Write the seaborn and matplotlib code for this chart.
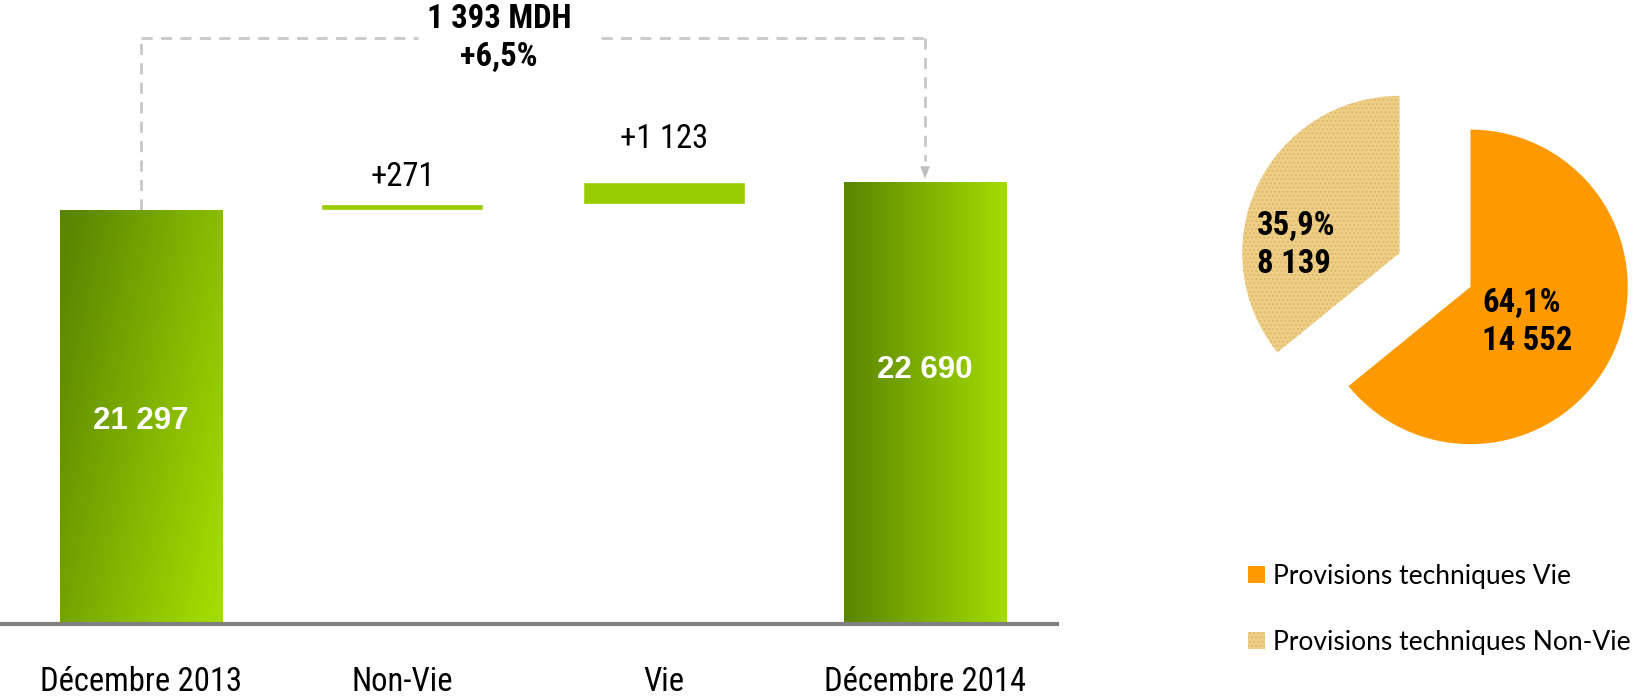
import numpy as np
import matplotlib
matplotlib.use("Agg")
import matplotlib.pyplot as plt
import seaborn as sns
from matplotlib.colors import LinearSegmentedColormap
from matplotlib.patches import Rectangle

sns.set_style("white")
plt.rcParams["font.family"] = ["Roboto Condensed", "DejaVu Sans"]
plt.rcParams["font.stretch"] = "condensed"
plt.rcParams["text.color"] = "black"
plt.rcParams["xtick.color"] = "black"

# data
categories = ["Décembre 2013", "Non-Vie", "Vie", "Décembre 2014"]
start_value = 21297
changes = [271, 1123]
end_value = 22690
change_labels = ["+271", "+1 123"]
total_labels = ["21 297", "22 690"]
delta_text = "1 393 MDH\n+6,5%"

pie_labels = ["Provisions techniques Vie", "Provisions techniques Non-Vie"]
pie_values = [14552, 8139]
pie_texts = ["64,1%\n14 552", "35,9%\n8 139"]

green_cmap = LinearSegmentedColormap.from_list("g", ["#5a8500", "#a4dc00"])
step_color = "#99cc00"

fig = plt.figure(figsize=(16.38, 6.96), dpi=100)

# ---- waterfall ----
ax = fig.add_axes([0, (696 - 624) / 696, 1057 / 1638, 624 / 696])
ax.set_xlim(-0.54, 3.505)
ax.set_ylim(0, 624 / 0.01946)
width = 0.62

# gradient bars for the two totals
grad_h = np.linspace(0, 1, 200)[None, :].repeat(200, axis=0)
yy = np.linspace(1, 0, 200)[:, None].repeat(200, axis=1)
grad_diag = np.clip(0.7 * grad_h + 0.4 * (1 - yy) - 0.05, 0, 1)
label_frac = [0.49, 0.575]
for i, (val, grad) in enumerate([(start_value, grad_diag), (end_value, grad_h)]):
    x = 0 if i == 0 else 3
    rect = Rectangle((x - width / 2, 0), width, val, facecolor="none", edgecolor="none")
    ax.add_patch(rect)
    im = ax.imshow(grad, cmap=green_cmap, aspect="auto", origin="upper",
                   extent=[x - width / 2, x + width / 2, 0, val], zorder=2)
    im.set_clip_path(rect)
    ax.text(x, val * label_frac[i], total_labels[i], color="white",
            fontsize=22.5, fontweight="bold", family=["Liberation Sans", "DejaVu Sans"],
            fontstretch="normal", ha="center", va="center", zorder=3)

# floating steps
bottoms = [start_value, start_value + changes[0]]
ax.bar([1, 2], changes, bottom=bottoms, width=width, color=step_color, zorder=2)
for xi, b, c, lab, off in zip([1, 2], bottoms, changes, change_labels, [8, 20]):
    ax.annotate(lab, (xi, b + c), xytext=(0, off), textcoords="offset points",
                ha="center", va="bottom", fontsize=23.5)

ax.set_xticks(range(4))
ax.set_xticklabels(categories, fontsize=23.5)
ax.tick_params(axis="x", length=0, pad=30)
ax.set_yticks([])
sns.despine(ax=ax, left=True)
ax.spines["bottom"].set_color("#808080")
ax.spines["bottom"].set_linewidth(3)

# dashed bracket
y_line = (624 - 38) / 0.01946
dash = dict(color="#c8c8c8", linestyle=(0, (4, 3)), linewidth=2, zorder=1)
ax.plot([0, 0], [start_value, y_line], **dash)
ax.plot([0, 1.06], [y_line, y_line], **dash)
ax.plot([1.76, 3], [y_line, y_line], **dash)
ax.plot([3, 3], [y_line, end_value + 1100], **dash)
ax.annotate("", xy=(3, end_value + 50), xytext=(3, end_value + 1200),
            arrowprops=dict(arrowstyle="-|>,head_width=0.35,head_length=0.9",
                            color="#c0c0c0", lw=0))
ax.text(1.37, y_line, delta_text, ha="center", va="center", fontsize=23.5,
        fontweight="bold", linespacing=1.25)

# ---- pie ----
pax = fig.add_axes([1435 / 1638 - 0.12, (696 - 270) / 696 - 0.3, 0.24, 0.6])
pax.set_xlim(-1.6, 1.6)
pax.set_ylim(-1.6, 1.6)
pax.set_aspect("equal")
pax.axis("off")
plt.rcParams["hatch.linewidth"] = 0.7
wedges, _ = pax.pie(pie_values, colors=["#ff9900", "#eecd85"], startangle=90,
                    counterclock=False, explode=[0.25, 0.25], radius=1.0,
                    wedgeprops=dict(linewidth=0))
wedges[1].set_hatch("....")
wedges[1].set_edgecolor("#d6b468")
wedges[1].set_linewidth(0)
pax.text(0.30, -0.33, pie_texts[0], fontsize=23.5, fontweight="bold",
         ha="left", va="center", linespacing=1.25)
pax.text(-1.13, 0.16, pie_texts[1], fontsize=23.5, fontweight="bold",
         ha="left", va="center", linespacing=1.25)

# legend
leg = fig.legend(wedges, pie_labels, loc="upper left", bbox_to_anchor=(1224 / 1638, 1 - 540 / 696),
                 frameon=False, handlelength=0.65, handleheight=0.65,
                 handletextpad=0.3, labelspacing=1.55,
                 prop={"family": "Lato", "size": 19, "stretch": "normal"})

fig.savefig("out.png", dpi=100)
